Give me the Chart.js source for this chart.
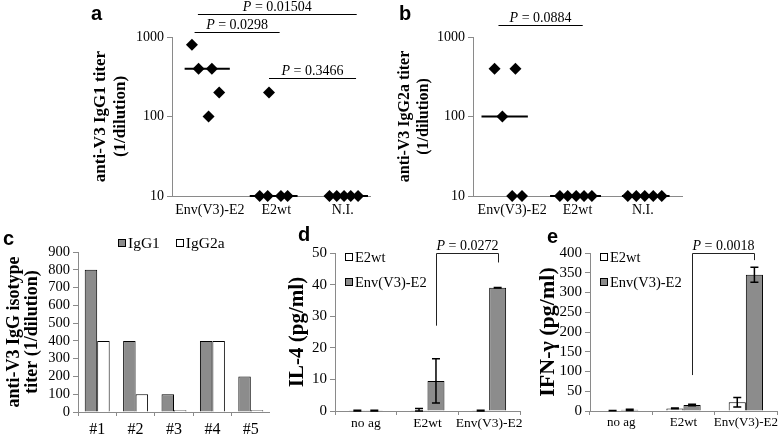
<!DOCTYPE html>
<html><head><meta charset="utf-8">
<script src="https://cdn.jsdelivr.net/npm/chart.js@4"></script>
<style>
html,body{margin:0;padding:0;background:#fff;}
body{width:778px;height:436px;position:relative;overflow:hidden;}
canvas{position:absolute;}
.lbl{position:absolute;font:bold 20px "Liberation Sans",Arial,sans-serif;line-height:20px;color:#000;}
</style></head><body>
<canvas id="ca" style="left:0;top:0" width="390" height="220"></canvas>
<canvas id="cb" style="left:390px;top:0" width="388" height="220"></canvas>
<canvas id="cc" style="left:0;top:220px" width="270" height="216"></canvas>
<canvas id="ce" style="left:520px;top:220px" width="258" height="216"></canvas>
<canvas id="cd" style="left:270px;top:220px" width="262" height="216"></canvas>
<div class="lbl" style="left:91px;top:3px">a</div>
<div class="lbl" style="left:399px;top:3px">b</div>
<div class="lbl" style="left:3px;top:228px">c</div>
<div class="lbl" style="left:298px;top:224px">d</div>
<div class="lbl" style="left:547px;top:226px">e</div>
<script>
// ---------- data ----------
const titerGroups = ['Env(V3)-E2', 'E2wt', 'N.I.'];
const titerTicks = [10, 100, 1000];

// panel a: anti-V3 IgG1 titers (per group, per mouse) and horizontal jitter
const igg1Values = [[800, 400, 400, 200, 100], [200, 10, 10, 10, 10], [10, 10, 10, 10, 10]];
const igg1Jitter = [[-0.27, -0.17, 0.03, 0.14, -0.02], [-0.11, -0.25, -0.13, 0.07, 0.17], [-0.2, -0.09, 0.02, 0.12, 0.23]];
const igg1Median = [400, 10, 10];
const igg1MedianSpan = [[-0.38, 0.30], [-0.40, 0.32], [-0.27, 0.38]];
const igg1Pvalues = [
  {from: -0.18, to: 2.21, y: 1946, label: '0.01504'},
  {from: -0.23, to: 1.05, y: 1156, label: '0.0298'},
  {from: 0.89, to: 2.20, y: 305, label: '0.3466'}
];

// panel b: anti-V3 IgG2a titers
const igg2aValues = [[400, 400, 100, 10, 10], [10, 10, 10, 10, 10], [10, 10, 10, 10, 10]];
const igg2aJitter = [[-0.27, 0.05, -0.15, 0.0, 0.15], [-0.27, -0.15, -0.02, 0.10, 0.22], [-0.23, -0.10, 0.03, 0.16, 0.29]];
const igg2aMedian = [100, 10, 10];
const igg2aMedianSpan = [[-0.47, 0.24], [-0.42, 0.36], [-0.32, 0.41]];
const igg2aPvalues = [{from: -0.21, to: 1.08, y: 1416, label: '0.0884'}];

// panel c: isotype titers per mouse
const mice = ['#1', '#2', '#3', '#4', '#5'];
const isoIgG1 = [800, 400, 100, 400, 200];
const isoIgG2a = [400, 100, 10, 400, 10];

// panels d, e: cytokines
const cytoGroups = ['no ag', 'E2wt', 'Env(V3)-E2'];
const il4E2wt = [0.1, 0.2, 0.1];
const il4E2wtErr = [0.1, 0.6, 0.1];
const il4Env = [0.1, 9.5, 39];
const il4EnvErr = [0.1, 7, 0.1];
const il4Bracket = {dataset: 1, from: 1, to: 2, top: 50, leftEnd: 27, rightEnd: 47, label: '0.0272'};

const ifnE2wt = [1, 6.5, 22];
const ifnE2wtErr = [0.5, 1, 12];
const ifnEnv = [3, 15, 345];
const ifnEnvErr = [1.5, 2, 19];
const ifnBracket = {dataset: 1, from: 1, to: 2, top: 400, leftEnd: 91, rightEnd: 382, label: '0.0018'};

// ---------- helpers ----------
const SERIF = '"Liberation Serif","Times New Roman",serif';
Chart.defaults.font.family = SERIF;
Chart.defaults.color = '#000';
const AXIS = '#8a8a8a';
const GRAY = '#8c8c8c';

function italicP(ctx, text, cx, baseY, size) {
  ctx.save();
  ctx.fillStyle = '#000'; ctx.textBaseline = 'alphabetic'; ctx.textAlign = 'left';
  const fi = 'italic ' + size + 'px ' + SERIF, fn = size + 'px ' + SERIF;
  ctx.font = fi; const w1 = ctx.measureText('P').width;
  const rest = ' = ' + text;
  ctx.font = fn; const w2 = ctx.measureText(rest).width;
  const x0 = cx - (w1 + w2) / 2;
  ctx.font = fi; ctx.fillText('P', x0, baseY);
  ctx.font = fn; ctx.fillText(rest, x0 + w1, baseY);
  ctx.restore();
}

function sigPlugin(bars) {
  return {id: 'sig', afterDraw(chart) {
    const {ctx, scales: {x, y}} = chart;
    ctx.save(); ctx.strokeStyle = '#000'; ctx.lineWidth = 1;
    bars.forEach(b => {
      const yy = Math.round(y.getPixelForValue(b.y)) + 0.5;
      const x1 = x.getPixelForValue(b.from), x2 = x.getPixelForValue(b.to);
      ctx.beginPath(); ctx.moveTo(x1, yy); ctx.lineTo(x2, yy); ctx.stroke();
      italicP(ctx, b.label, (x1 + x2) / 2, yy - 4, 14);
    });
    ctx.restore();
  }};
}

function legendPlugin(opt) {
  return {id: 'lg', afterDraw(chart) {
    const {ctx, chartArea} = chart;
    ctx.save(); ctx.font = opt.size + 'px ' + SERIF; ctx.textBaseline = 'middle'; ctx.textAlign = 'left';
    let x = chartArea.left + opt.dx, y = chartArea.top + opt.dy;
    const b = opt.box;
    chart.data.datasets.forEach(ds => {
      const bx = Math.round(x), by = Math.round(y - b / 2);
      ctx.fillStyle = ds.backgroundColor; ctx.fillRect(bx, by, b, b);
      ctx.strokeStyle = '#000'; ctx.lineWidth = 1; ctx.strokeRect(bx + 0.5, by + 0.5, b - 1, b - 1);
      ctx.fillStyle = '#000'; ctx.fillText(ds.label, x + b + 2, y + 1);
      if (opt.vertical) y += opt.step; else x += b + 2 + ctx.measureText(ds.label).width + opt.gap;
    });
    ctx.restore();
  }};
}

const errorBarPlugin = {id: 'err', afterDatasetsDraw(chart) {
  const {ctx, scales: {y}} = chart;
  ctx.save(); ctx.strokeStyle = '#000'; ctx.lineWidth = 1.5;
  chart.data.datasets.forEach((ds, i) => {
    if (!ds.errors) return;
    chart.getDatasetMeta(i).data.forEach((bar, j) => {
      const e = ds.errors[j]; if (!e) return;
      const v = ds.data[j];
      const yt = y.getPixelForValue(v + e), yb = y.getPixelForValue(Math.max(v - e, 0));
      ctx.beginPath();
      ctx.moveTo(bar.x, yt); ctx.lineTo(bar.x, yb);
      ctx.moveTo(bar.x - 4, yt); ctx.lineTo(bar.x + 4, yt);
      ctx.moveTo(bar.x - 4, yb); ctx.lineTo(bar.x + 4, yb);
      ctx.stroke();
    });
  });
  ctx.restore();
}};

function bracketPlugin(br) {
  return {id: 'br', afterDraw(chart) {
    const {ctx, scales: {y}} = chart;
    const meta = chart.getDatasetMeta(br.dataset);
    const x1 = Math.round(meta.data[br.from].x) + 0.5, x2 = Math.round(meta.data[br.to].x) + 0.5;
    const yt = Math.round(y.getPixelForValue(br.top)) + 0.5;
    const y1 = y.getPixelForValue(br.leftEnd), y2 = y.getPixelForValue(br.rightEnd);
    ctx.save(); ctx.strokeStyle = '#222'; ctx.lineWidth = 1;
    ctx.beginPath(); ctx.moveTo(x1, y1); ctx.lineTo(x1, yt); ctx.lineTo(x2, yt); ctx.lineTo(x2, y2); ctx.stroke();
    italicP(ctx, br.label, (x1 + x2) / 2, yt - 4, 14);
    ctx.restore();
  }};
}

function titerChart(id, values, jitter, medians, spans, xr, title, tfont, yWidth, padding, pvals) {
  const pts = [];
  values.forEach((g, gi) => g.forEach((v, k) => pts.push({x: gi + jitter[gi][k], y: v})));
  const datasets = [{type: 'scatter', data: pts, pointStyle: 'rectRot', pointRadius: 6, pointHoverRadius: 6,
    backgroundColor: '#000', borderColor: '#000', borderWidth: 0, clip: false}];
  medians.forEach((m, gi) => datasets.push({type: 'line', showLine: true, clip: false,
    data: [{x: gi + spans[gi][0], y: m}, {x: gi + spans[gi][1], y: m}],
    borderColor: '#000', borderWidth: 2, pointRadius: 0}));
  return new Chart(document.getElementById(id), {
    type: 'scatter',
    data: {datasets},
    options: {
      responsive: false, animation: false, devicePixelRatio: 1,
      layout: {padding},
      plugins: {legend: {display: false}, tooltip: {enabled: false}},
      scales: {
        x: {type: 'linear', min: xr[0], max: xr[1],
          afterBuildTicks: s => { s.ticks = titerGroups.map((_, i) => ({value: i})); },
          ticks: {font: {size: 14}, padding: 2, autoSkip: false, maxRotation: 0, minRotation: 0, callback: v => titerGroups[v]},
          grid: {display: false, tickLength: 4},
          border: {color: AXIS},
          afterFit: s => { s.height = 24; s.paddingLeft = 0; s.paddingRight = 0; }
        },
        y: {type: 'logarithmic', min: 10, max: 1000,
          afterBuildTicks: s => { s.ticks = titerTicks.map(v => ({value: v})); },
          ticks: {font: {size: 14}, padding: 3, autoSkip: false, callback: v => String(v)},
          grid: {drawOnChartArea: false, color: AXIS, tickLength: 5},
          border: {color: AXIS},
          title: {display: true, text: title, font: tfont, padding: 0},
          afterFit: s => { s.width = yWidth; s.paddingTop = 0; s.paddingBottom = 0; }
        }
      }
    },
    plugins: [sigPlugin(pvals)]
  });
}

titerChart('ca', igg1Values, igg1Jitter, igg1Median, igg1MedianSpan, [-0.57, 2.41],
  ['anti-V3 IgG1 titer', '(1/dilution)'], {size: 17, weight: 'bold', lineHeight: 1.2}, 82,
  {left: 90, top: 37, right: 20, bottom: 0}, igg1Pvalues);
titerChart('cb', igg2aValues, igg2aJitter, igg2aMedian, igg2aMedianSpan, [-0.6, 2.6],
  ['anti-V3 IgG2a titer', '(1/dilution)'], {size: 16, weight: 'bold', lineHeight: 1.15}, 77,
  {left: 6, top: 37, right: 96, bottom: 0}, igg2aPvalues);

function barChart(id, labels, datasets, o) {
  return new Chart(document.getElementById(id), {
    type: 'bar',
    data: {labels, datasets},
    options: {
      responsive: false, animation: false, devicePixelRatio: 1,
      layout: {padding: o.padding},
      datasets: {bar: {categoryPercentage: o.catPct, barPercentage: 1}},
      plugins: {legend: {display: false}, tooltip: {enabled: false}},
      scales: {
        x: {ticks: {font: {size: o.xSize}, padding: o.xPad, autoSkip: false, maxRotation: 0, minRotation: 0},
          grid: {drawOnChartArea: false, color: AXIS, tickLength: 4},
          border: {color: AXIS},
          afterFit: s => { s.height = o.xHeight; s.paddingLeft = 0; s.paddingRight = 0; }
        },
        y: {min: 0, max: o.yMax,
          ticks: {stepSize: o.yStep, font: {size: o.ySize}, padding: 3, autoSkip: false},
          grid: {drawOnChartArea: false, color: AXIS, tickLength: 5},
          border: {color: AXIS},
          title: {display: true, text: o.title, font: o.tfont, padding: 0},
          afterFit: s => { s.width = o.yWidth; s.paddingTop = 0; s.paddingBottom = 0; }
        }
      }
    },
    plugins: o.plugins
  });
}

barChart('cc', mice, [
  {label: 'IgG1', data: isoIgG1, backgroundColor: GRAY, borderColor: '#000', borderWidth: 1},
  {label: 'IgG2a', data: isoIgG2a, backgroundColor: '#fff', borderColor: '#000', borderWidth: 1}
], {padding: {left: 5, top: 32, right: 0, bottom: 0}, catPct: 0.65, xSize: 16, xPad: 4, xHeight: 24,
  yMax: 900, yStep: 100, ySize: 14.5, title: ['anti-V3 IgG isotype', 'titer (1/dilution)'],
  tfont: {size: 18, weight: 'bold', lineHeight: 1.0}, yWidth: 73,
  plugins: [legendPlugin({dx: 40, dy: -9, size: 15.5, box: 8, gap: 16, vertical: false})]});

barChart('cd', cytoGroups, [
  {label: 'E2wt', data: il4E2wt, errors: il4E2wtErr, backgroundColor: '#fff', borderColor: '#000', borderWidth: 1},
  {label: 'Env(V3)-E2', data: il4Env, errors: il4EnvErr, backgroundColor: GRAY, borderColor: '#000', borderWidth: 1}
], {padding: {left: 15, top: 33, right: 12, bottom: 0}, catPct: 0.55, xSize: 13.5, xPad: 0, xHeight: 25,
  yMax: 50, yStep: 10, ySize: 15, title: 'IL-4 (pg/ml)',
  tfont: {size: 21, weight: 'bold', lineHeight: 1.2}, yWidth: 50,
  plugins: [errorBarPlugin, bracketPlugin(il4Bracket), legendPlugin({dx: 10, dy: 4, size: 14.5, box: 8, step: 25, vertical: true})]});

barChart('ce', cytoGroups, [
  {label: 'E2wt', data: ifnE2wt, errors: ifnE2wtErr, backgroundColor: '#fff', borderColor: '#000', borderWidth: 1},
  {label: 'Env(V3)-E2', data: ifnEnv, errors: ifnEnvErr, backgroundColor: GRAY, borderColor: '#000', borderWidth: 1}
], {padding: {left: 15, top: 33, right: 1, bottom: 0}, catPct: 0.55, xSize: 13, xPad: 0, xHeight: 25,
  yMax: 400, yStep: 50, ySize: 15, title: 'IFN-γ (pg/ml)',
  tfont: {size: 22, weight: 'bold', lineHeight: 1.2}, yWidth: 55,
  plugins: [errorBarPlugin, bracketPlugin(ifnBracket), legendPlugin({dx: 10, dy: 4, size: 14.5, box: 8, step: 25, vertical: true})]});
</script>
</body></html>
